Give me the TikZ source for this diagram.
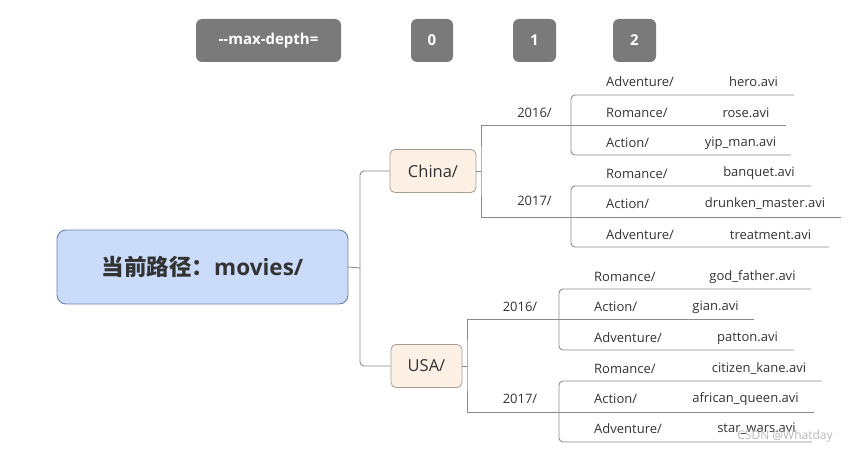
\documentclass[tikz,border=0pt]{standalone}
\usepackage{fontspec}
\setmainfont{Open Sans}
\newfontfamily\cjk{Noto Sans CJK SC}
\definecolor{topgray}{HTML}{7A7A7A}
\definecolor{rootfill}{HTML}{CBDCFB}
\definecolor{rootdraw}{HTML}{6B82AD}
\definecolor{peach}{HTML}{FDF1E5}
\definecolor{peachdraw}{HTML}{A89C90}
\definecolor{linegray}{HTML}{8A8A8A}
\definecolor{txt}{HTML}{333333}
\definecolor{wm}{HTML}{B8B8B8}
\tikzset{
  topbox/.style={fill=topgray, rounded corners=6pt, text=white, font=\bfseries\fontsize{15}{17}\selectfont, inner sep=0pt, minimum height=43pt},
  rootbox/.style={fill=rootfill, draw=rootdraw, line width=0.9pt, rounded corners=9pt, text=txt, minimum width=291pt, minimum height=74pt, inner sep=0pt},
  country/.style={fill=peach, draw=peachdraw, line width=0.8pt, rounded corners=5pt, text=txt, font=\fontsize{16.5}{18}\selectfont, minimum height=43pt, inner sep=0pt},
  lbl/.style={text=txt, font=\fontsize{13}{15}\selectfont, inner sep=0pt},
  conn/.style={draw=linegray, line width=0.9pt, rounded corners=4pt},
}
\begin{document}
\begin{tikzpicture}[x=1pt,y=-1pt]
\useasboundingbox (0,0) rectangle (848,452);
% top row
\node[topbox, minimum width=145pt] (md) at (268.5,40.5) {-{}-max-depth=};
\node[topbox, minimum width=42pt] (d0) at (432,40.5) {0};
\node[topbox, minimum width=43pt] (d1) at (534.5,40.5) {1};
\node[topbox, minimum width=43pt] (d2) at (634.5,40.5) {2};
% root
\node[rootbox] (root) at (202.5,267) {\fontsize{22.5}{25}\selectfont{\cjk\bfseries 当前路径：}{\bfseries movies/}};
\node[country, minimum width=86pt] (china) at (433,171) {China/};
\node[country, minimum width=71pt] (usa) at (426.5,366) {USA/};
% root connectors
\coordinate (rj) at (360,268);
\draw[conn] (root.east) -- (rj);
\draw[conn] (china.west) -| (rj) |- (usa.west);
% ---------- China
\coordinate (cj) at (481,171);
\draw[conn] (china.east) -- (cj);
\coordinate (c16) at (481,125);
\coordinate (c17) at (481,217);
\draw[conn] (c16) -- (cj) -- (c17);
\node[lbl] (c16t) at (534.5,113) {2016/};
\node[lbl] (c17t) at (534.5,201) {2017/};
% 2016 children
\coordinate (c16j) at (571,125);
\coordinate (c16a) at (794,95);
\coordinate (c16b) at (786,125);
\coordinate (c16c) at (791,155);
\draw[conn] (c16) -- (c16b);
\draw[conn] (c16a) -| (c16j) |- (c16c);
\node[lbl, anchor=west] (c16af) at (606,82) {Adventure/};
\node[lbl] (c16av) at (753.5,82) {hero.avi};
\node[lbl, anchor=west] (c16bf) at (606,112.5) {Romance/};
\node[lbl] (c16bv) at (746,112.5) {rose.avi};
\node[lbl, anchor=west] (c16cf) at (606,143) {Action/};
\node[lbl] (c16cv) at (740.5,143) {yip\_man.avi};
% 2017 children
\coordinate (c17j) at (571,217);
\coordinate (c17a) at (811,186);
\coordinate (c17b) at (841,217);
\coordinate (c17c) at (829,247);
\draw[conn] (c17) -- (c17b);
\draw[conn] (c17a) -| (c17j) |- (c17c);
\node[lbl, anchor=west] (c17af) at (606,173.5) {Romance/};
\node[lbl] (c17av) at (759,173.5) {banquet.avi};
\node[lbl, anchor=west] (c17bf) at (606,204) {Action/};
\node[lbl] (c17bv) at (765,204) {drunken\_master.avi};
\node[lbl, anchor=west] (c17cf) at (606,234.5) {Adventure/};
\node[lbl] (c17cv) at (770.5,234.5) {treatment.avi};
% ---------- USA
\coordinate (uj) at (467,366);
\draw[conn] (usa.east) -- (uj);
\coordinate (u16) at (467,319);
\coordinate (u17) at (467,412);
\draw[conn] (u16) -- (uj) -- (u17);
\node[lbl] (u16t) at (520,307) {2016/};
\node[lbl] (u17t) at (520,399) {2017/};
% 2016 children
\coordinate (u16j) at (559,319);
\coordinate (u16a) at (811,289);
\coordinate (u16b) at (754,319);
\coordinate (u16c) at (794,350);
\draw[conn] (u16) -- (u16b);
\draw[conn] (u16a) -| (u16j) |- (u16c);
\node[lbl, anchor=west] (u16af) at (594,277) {Romance/};
\node[lbl] (u16av) at (752.5,277) {god\_father.avi};
\node[lbl, anchor=west] (u16bf) at (594,307) {Action/};
\node[lbl] (u16bv) at (715.5,307) {gian.avi};
\node[lbl, anchor=west] (u16cf) at (594,338) {Adventure/};
\node[lbl] (u16cv) at (747.5,338) {patton.avi};
% 2017 children
\coordinate (u17j) at (559,412);
\coordinate (u17a) at (822,381);
\coordinate (u17b) at (814,412);
\coordinate (u17c) at (812,442);
\draw[conn] (u17) -- (u17b);
\draw[conn] (u17a) -| (u17j) |- (u17c);
\node[lbl, anchor=west] (u17af) at (594,369) {Romance/};
\node[lbl] (u17av) at (759,369) {citizen\_kane.avi};
\node[lbl, anchor=west] (u17bf) at (594,399) {Action/};
\node[lbl] (u17bv) at (745.5,399) {african\_queen.avi};
\node[lbl, anchor=west] (u17cf) at (594,429) {Adventure/};
\node[lbl] (u17cv) at (756.5,429) {star\_wars.avi};
% watermark
\node[text=wm, font=\fontsize{12}{14}\selectfont, inner sep=0pt] (wmk) at (785,436) {CSDN @Whatday};
\end{tikzpicture}
\end{document}
